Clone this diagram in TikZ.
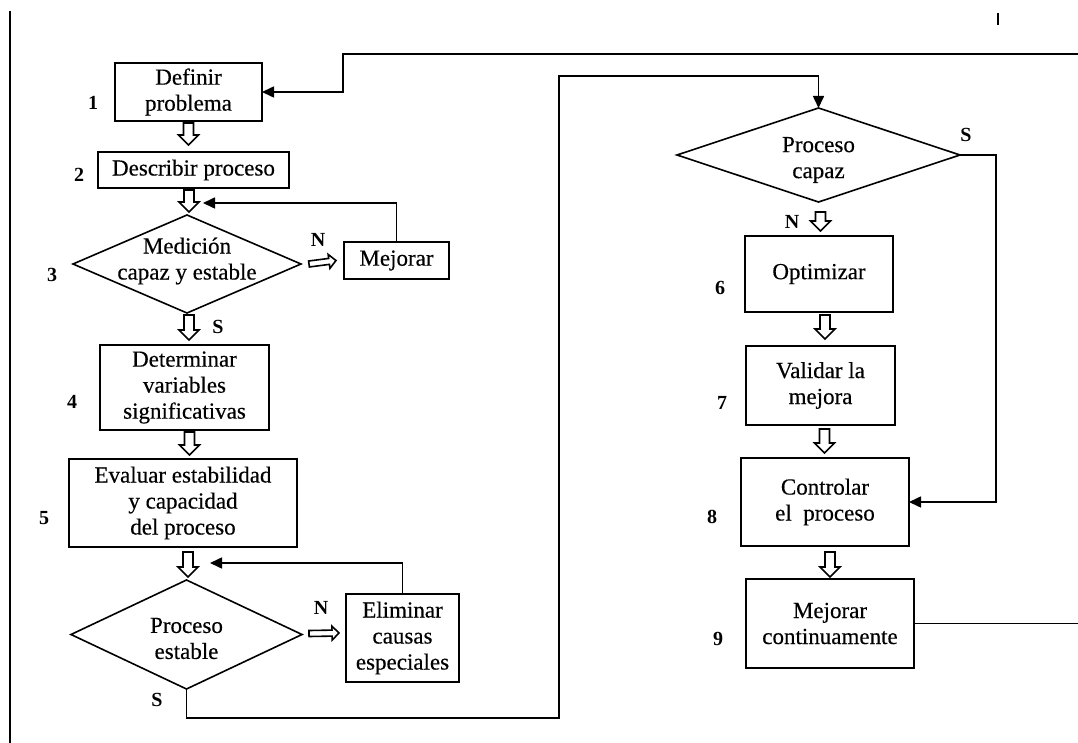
\documentclass[tikz,border=0pt]{standalone}
\usepackage{fontspec}
\setmainfont{Liberation Serif}
\newfontfamily\heavyserif{Liberation Serif}[FakeBold=0.35]
\usetikzlibrary{shapes.geometric,arrows.meta,calc}

\newcommand\boxfont{\heavyserif\fontsize{23}{26}\selectfont}
\newcommand\numfont{\fontsize{20}{22}\selectfont\bfseries}

% Outlined block arrow: #1 half shaft width, #2 half head width (also head length), #3 tail, #4 tip
\newcommand\hollowarrow[4]{%
  \path (#3) coordinate (ha) (#4) coordinate (hb);
  \path ($(hb)!#2!(ha)$) coordinate (hc);
  \draw[hollowtip] ($(ha)!#1!90:(hb)$) -- ($(hc)!#1!90:(hb)$) -- ($(hc)!#2!90:(hb)$)
    -- (hb) -- ($(hc)!#2!-90:(hb)$) -- ($(hc)!#1!-90:(hb)$) -- ($(ha)!#1!-90:(hb)$) -- cycle;
}

\tikzset{
  box/.style={draw, line width=1.6pt, rectangle, inner sep=0pt, outer sep=0pt, align=center, font=\boxfont},
  decision/.style={draw, diamond, line width=1.6pt, inner sep=0pt, outer sep=0pt},
  boxtext/.style={align=center, font=\boxfont, inner sep=0pt},
  num/.style={font=\numfont, inner sep=0pt},
  flow/.style={line width=1.6pt, -{Triangle[length=12pt,width=11pt]}},
  hollowtip/.style={line width=1.6pt, fill=white, line join=miter},
}

\begin{document}
\begin{tikzpicture}[x=1pt,y=-1pt]
\useasboundingbox (0,0) rectangle (1078,743);
\fill[white] (0,0) rectangle (1078,743);
\clip (0,0) rectangle (1078,743);

% page margin rule and mark
\draw[line width=2.5pt] (10,11) -- (10,743);
\draw[line width=2.2pt] (998,13) -- (998,25);

% left column
\node[box, minimum width=147pt, minimum height=58pt] (b1) at (188.5,92) {Definir\\problema};
\node[box, minimum width=191pt, minimum height=36pt] (b2) at (193.5,170) {Describir proceso};
\node[decision, minimum width=228pt, minimum height=98pt] (d3) at (187,264) {};
\node[boxtext] (d3t) at ($(d3)+(0,-3)$) {Medición\\capaz y estable};
\node[box, minimum width=105pt, minimum height=37pt] (mej) at (396.5,260.5) {Mejorar};
\node[box, minimum width=169pt, minimum height=85pt] (b4) at (184.5,387.5) {Determinar\\variables\\significativas};
\node[box, minimum width=228pt, minimum height=88pt] (b5) at (183,503) {Evaluar estabilidad\\y capacidad\\del proceso};
\node[decision, minimum width=231pt, minimum height=109pt] (d5) at (186.5,634.5) {};
\node[boxtext] (d5t) at ($(d5)+(0,4)$) {Proceso\\estable};
\node[box, minimum width=113pt, minimum height=88pt] (elim) at (402.5,638) {Eliminar\\causas\\especiales};

% right column
\node[decision, minimum width=283pt, minimum height=94pt] (dcap) at (818.5,155) {};
\node[boxtext] (dcapt) at ($(dcap)+(0,5)$) {Proceso\\capaz};
\node[box, minimum width=148pt, minimum height=76pt] (b6) at (819,274) {Optimizar};
\node[box, minimum width=149pt, minimum height=79pt] (b7) at (820.5,385.5) {Validar la\\mejora};
\node[box, minimum width=168pt, minimum height=88pt] (b8) at (825,502) {Controlar\\el~ proceso};
\node[box, minimum width=168pt, minimum height=89pt] (b9) at (830,623.5) {Mejorar\\continuamente};

% step numbers
\node[num] (n1) at (93,103) {1};
\node[num] (n2) at (79,175) {2};
\node[num] (n3) at (52,275) {3};
\node[num] (n4) at (72,402) {4};
\node[num] (n5) at (44,518) {5};
\node[num] (n6) at (720,288) {6};
\node[num] (n7) at (722,403) {7};
\node[num] (n8) at (712,517) {8};
\node[num] (n9) at (718,639) {9};

% branch letters
\node[num] (y3) at (218,327) {S};
\node[num] (no3) at (318,240) {N};
\node[num] (no5) at (321,608) {N};
\node[num] (y5) at (157,700) {S};
\node[num] (ycap) at (966,135) {S};
\node[num] (nocap) at (792,222) {N};

% block arrows between steps
\hollowarrow{5pt}{10pt}{$(b1.south)+(0,2)$}{$(b1.south)+(0,24)$}
\hollowarrow{5pt}{10pt}{$(d3.north)+(2,-25)$}{$(d3.north)+(2,-3)$}
\hollowarrow{5pt}{10pt}{$(d3.south)+(2,2)$}{$(d3.south)+(2,27)$}
\hollowarrow{5pt}{10pt}{$(b4.south)+(5,2)$}{$(b4.south)+(5,25)$}
\hollowarrow{5pt}{10pt}{$(b5.south)+(5,5)$}{$(b5.south)+(5,30)$}
\hollowarrow{3pt}{7pt}{$(d3.east)+(8,0)$}{$(mej.west)+(-8,0)$}
\hollowarrow{3pt}{7pt}{$(d5.east)+(7,-1)$}{$(elim.west)+(-7,-5)$}
\hollowarrow{5pt}{10pt}{$(dcap.south)+(2,10)$}{$(dcap.south)+(2,29)$}
\hollowarrow{5pt}{10pt}{$(b6.south)+(6,3)$}{$(b6.south)+(6,27)$}
\hollowarrow{5pt}{10pt}{$(b7.south)+(4,4)$}{$(b7.south)+(4,28)$}
\hollowarrow{5pt}{10pt}{$(b8.south)+(5,6)$}{$(b8.south)+(5,31)$}

% feedback loops
\coordinate (m1) at (203,203);
\draw[flow] (mej.north) |- (m1);
\coordinate (e1) at (210,563);
\draw[flow] (elim.north) |- (e1);

% stable process on to capability check
\coordinate (bl) at (559,718);
\coordinate (tl) at (559,76);
\draw[flow] (d5.south) |- (bl) -- (tl) -| (dcap.north);

% capable process straight to control
\coordinate (r1) at (996,502);
\draw[flow] (dcap.east) -| (r1) -- (b8.east);

% continuous improvement back to the start
\coordinate (rt) at (1084,54);
\coordinate (jog) at (343,92);
\draw[flow] (b9.east) -| (rt) -| (jog) -- (b1.east);
\end{tikzpicture}
\end{document}
